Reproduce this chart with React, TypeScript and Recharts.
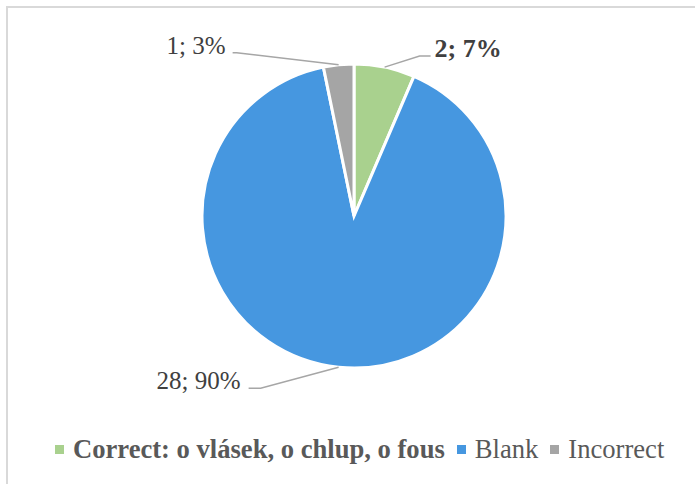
import { PieChart, Pie, Cell, Legend } from "recharts";

const NAMES = ["Correct: o vlásek, o chlup, o fous", "Blank", "Incorrect"];
const VALUES = [2, 28, 1];
const PERCENTS = ["7%", "90%", "3%"];
const COLORS = ["#A9D18E", "#4697E0", "#A5A5A5"];

const data = NAMES.map((name, i) => ({ name, value: VALUES[i], pct: PERCENTS[i] }));

// leader line layout per slice: elbow offset, end offset, text gap
const LAYOUT = [
  { ex: 35, ey: -11, hx: 46, tx: 50, anchor: "start", bold: true },
  { ex: -78, ey: 21, hx: -90, tx: -98, anchor: "end", bold: false },
  { ex: -102, ey: -12, hx: -106, tx: -113, anchor: "end", bold: false },
];

const RAD = Math.PI / 180;

function renderLabel(props: any) {
  const { cx, cy, midAngle, outerRadius, index, value, payload } = props;
  const x0 = cx + outerRadius * Math.cos(-midAngle * RAD);
  const y0 = cy + outerRadius * Math.sin(-midAngle * RAD);
  const l = LAYOUT[index];
  const ex = x0 + l.ex;
  const ey = y0 + l.ey;
  return (
    <g>
      <polyline
        points={`${x0},${y0} ${ex},${ey} ${x0 + l.hx},${ey}`}
        fill="none"
        stroke="#A6A6A6"
        strokeWidth={1.5}
      />
      <text
        x={x0 + l.tx}
        y={ey}
        dy={1}
        textAnchor={l.anchor}
        fill="#404040"
        fontSize={l.bold ? 26 : 25}
        fontWeight={l.bold ? "bold" : "normal"}
        fontFamily="'Liberation Serif', 'Times New Roman', serif"
      >
        {`${value}; ${payload.pct}`}
      </text>
    </g>
  );
}

function LegendContent() {
  return (
    <div
      style={{
        display: "flex",
        justifyContent: "flex-start",
        alignItems: "center",
        paddingLeft: 55,
        fontFamily: "'Liberation Serif', 'Times New Roman', serif",
        fontSize: 26.6,
        color: "#595959",
        whiteSpace: "nowrap",
      }}
    >
      {NAMES.map((n, i) => (
        <div key={n} style={{ display: "flex", alignItems: "center", marginRight: 12 }}>
          <span
            style={{ width: 9, height: 9, background: COLORS[i], display: "inline-block", marginRight: 9 }}
          />
          <span style={{ fontWeight: i === 0 ? "bold" : "normal" }}>{n}</span>
        </div>
      ))}
    </div>
  );
}

export default function App() {
  return (
    <div style={{ position: "absolute", left: 0, top: 0, width: 695, height: 484, overflow: "hidden", background: "#fff" }}>
      <div
        style={{
          position: "absolute",
          left: 6,
          top: 6,
          width: 720,
          height: 520,
          border: "2px solid #D9D9D9",
        }}
      />
      <PieChart width={695} height={484} margin={{ top: 0, right: 0, bottom: 0, left: 0 }}>
        <Pie
          data={data}
          dataKey="value"
          nameKey="name"
          cx={354}
          cy={216}
          outerRadius={152}
          startAngle={90}
          endAngle={-270}
          stroke="#fff"
          strokeWidth={3}
          label={renderLabel}
          labelLine={false}
          isAnimationActive={false}
        >
          {data.map((_, i) => (
            <Cell key={i} fill={COLORS[i]} />
          ))}
        </Pie>
        <Legend
          content={<LegendContent />}
          wrapperStyle={{ position: "absolute", top: 434, left: 0, width: 695 }}
        />
      </PieChart>
    </div>
  );
}
